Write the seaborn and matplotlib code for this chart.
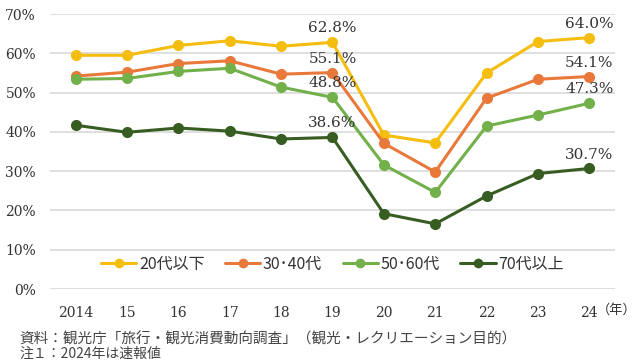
import matplotlib
matplotlib.use("Agg")
import matplotlib.pyplot as plt
import seaborn as sns
import pandas as pd

years = [2014, 2015, 2016, 2017, 2018, 2019, 2020, 2021, 2022, 2023, 2024]
tick_labels = ["2014", "15", "16", "17", "18", "19", "20", "21", "22", "23", "24"]
series_names = ["20代以下", "30･40代", "50･60代", "70代以上"]
v20 = [59.5, 59.5, 62.0, 63.2, 61.8, 62.8, 39.2, 37.2, 55.0, 63.0, 64.0]
v30 = [54.2, 55.2, 57.4, 58.1, 54.7, 55.1, 37.1, 29.8, 48.6, 53.4, 54.1]
v50 = [53.4, 53.6, 55.4, 56.2, 51.4, 48.8, 31.6, 24.6, 41.5, 44.3, 47.3]
v70 = [41.7, 39.9, 41.0, 40.2, 38.2, 38.6, 19.2, 16.6, 23.7, 29.4, 30.7]
colors = ["#F5BD0E", "#E9793A", "#72B04A", "#385D22"]
annot_years = [2019, 2024]

sns.set_theme(style="white")
plt.rcParams["font.family"] = ["DejaVu Serif", "Noto Sans CJK JP", "DejaVu Sans"]

rows = []
for name, vals in zip(series_names, [v20, v30, v50, v70]):
    for y, v in zip(years, vals):
        rows.append({"year": y, "value": v, "group": name})
df = pd.DataFrame(rows)

fig = plt.figure(figsize=(6.4, 3.6), dpi=100)
ax = fig.add_axes([0.078, 0.197, 0.883, 0.764])

sns.lineplot(data=df, x="year", y="value", hue="group", hue_order=series_names,
             palette=colors, marker="o", markersize=8, markeredgewidth=0,
             linewidth=2.2, ax=ax, legend=True)

ax.set_xlim(2013.5, 2024.5)
ax.set_ylim(0, 70)
ax.set_yticks(range(0, 71, 10))
ax.set_yticklabels([f"{v}%" for v in range(0, 71, 10)], fontsize=10, color="#333333")
ax.set_xticks(years)
ax.set_xticklabels(tick_labels, fontsize=10, color="#333333")
ax.tick_params(axis="y", length=0, pad=10)
ax.tick_params(axis="x", length=0, pad=12)
ax.grid(axis="y", color="#D9D9D9", linewidth=1.2)
ax.set_axisbelow(True)
for s in ax.spines.values():
    s.set_visible(False)
ax.set_xlabel("")
ax.set_ylabel("")

fig.text(597 / 640, 1 - 310 / 360, "（年）", ha="left", va="center", fontsize=9.5,
         color="#333333", family=["Noto Sans CJK JP", "DejaVu Sans"])

for name, vals in zip(series_names, [v20, v30, v50, v70]):
    for ay in annot_years:
        v = vals[years.index(ay)]
        ax.annotate(f"{v:.1f}%", (ay, v), xytext=(0, 5), textcoords="offset points",
                    ha="center", va="bottom", fontsize=11, color="#333333")

handles, labels = ax.get_legend_handles_labels()
leg = ax.legend(handles, labels, loc="center", bbox_to_anchor=(0.5, 0.09), ncol=4,
                frameon=False, handlelength=2.2, columnspacing=1.3,
                handletextpad=0.15, prop={"family": ["Noto Sans CJK JP", "DejaVu Sans"], "size": 11.5})
for t in leg.get_texts():
    t.set_color("#333333")
for h in leg.legend_handles:
    h.set_markersize(7)

fig.text(0.03, 0.058, "資料：観光庁「旅行・観光消費動向調査」（観光・レクリエーション目的）",
         fontsize=10.5, color="#444444", va="center",
         family=["Noto Sans CJK JP", "DejaVu Sans"])
fig.text(0.03, 0.018, "注１：2024年は速報値", fontsize=10, color="#444444", va="center",
         family=["Noto Sans CJK JP", "DejaVu Sans"])

fig.savefig("out.png", dpi=100)
